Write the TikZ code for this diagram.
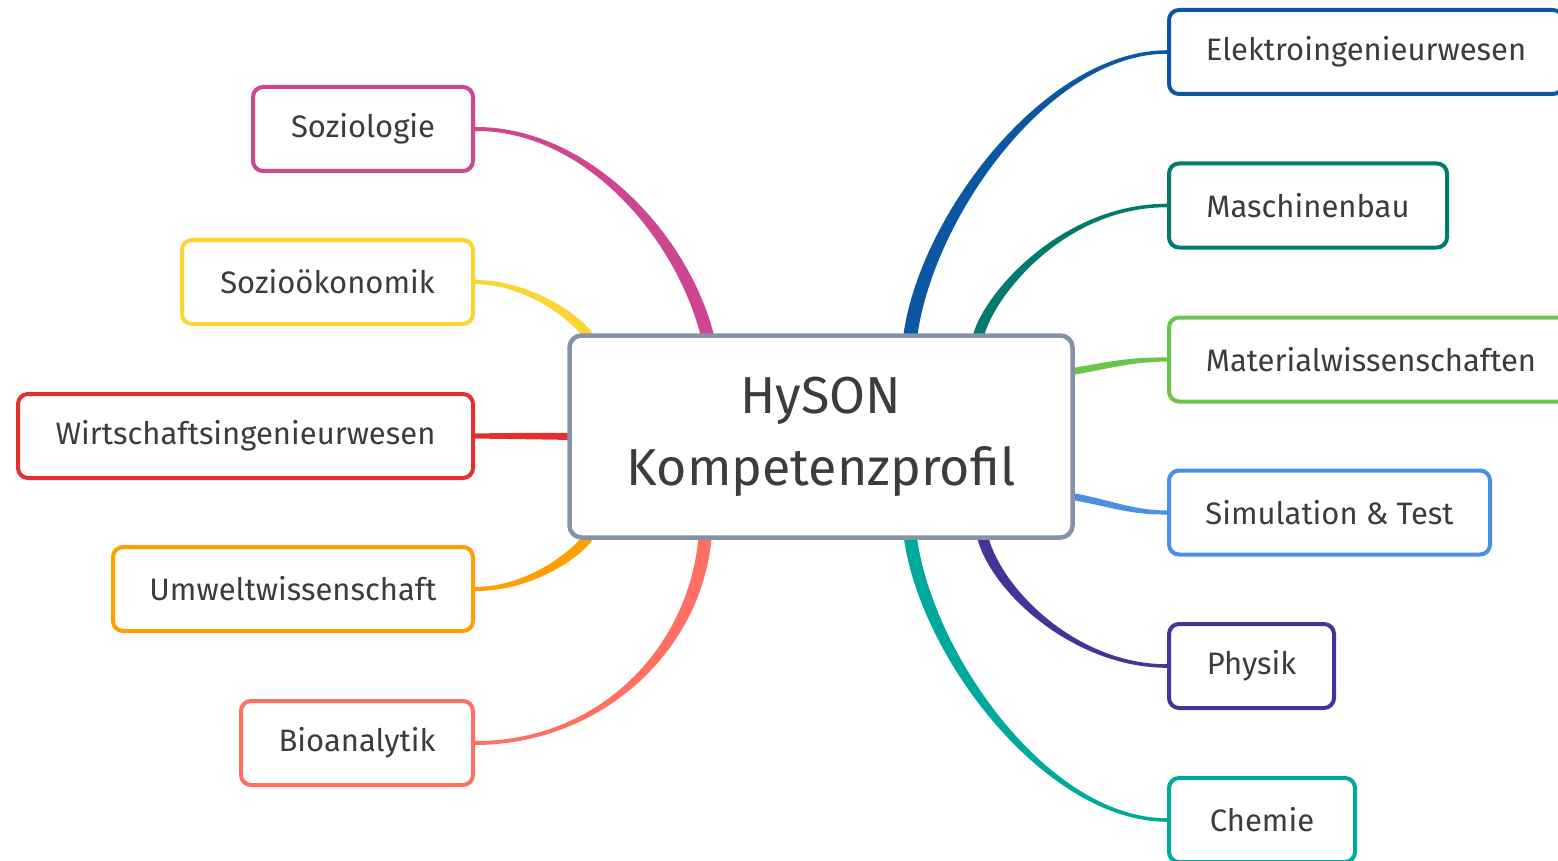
\documentclass[tikz,border=0pt]{standalone}
\usepackage{fontspec}
\setmainfont{Fira Sans}
\usetikzlibrary{calc}
\pgfdeclarelayer{bg}
\pgfsetlayers{bg,main}
\definecolor{txt}{HTML}{3C3C3C}
\definecolor{cgray}{HTML}{8593A8}
\definecolor{cpink}{HTML}{CF4690}
\definecolor{cyellow}{HTML}{FCD535}
\definecolor{cred}{HTML}{E3302F}
\definecolor{corange}{HTML}{FFA000}
\definecolor{csalmon}{HTML}{FF7062}
\definecolor{cblue}{HTML}{0B57A4}
\definecolor{cdteal}{HTML}{017B6C}
\definecolor{cgreen}{HTML}{6BC54B}
\definecolor{clblue}{HTML}{4A90E2}
\definecolor{cindigo}{HTML}{45339A}
\definecolor{cteal}{HTML}{00A99D}
\newcommand\leaffont{\fontsize{31}{36}\selectfont}
\newcommand\hubfont{\fontsize{52}{72}\selectfont}
% tapered connector: color, start, c1, c2, end, normal at start, normal at end
\newcommand\conn[7]{\fill[#1] ($(#2)+#6$) .. controls ($#3+#6$) and ($#4+0.35*#6+0.65*#7$) .. ($(#5)+#7$) -- ($(#5)-#7$) .. controls ($#4-0.35*#6-0.65*#7$) and ($#3-#6$) .. ($(#2)-#6$) -- cycle;}
\tikzset{
  leaf/.style={draw=#1, line width=4pt, rounded corners=10pt, fill=white,
    minimum height=84pt, inner sep=0pt, font=\leaffont, text=txt, align=center},
  hubbox/.style={draw=cgray, line width=4.5pt, rounded corners=12pt, fill=white,
    minimum width=503pt, minimum height=202pt, align=center, font=\hubfont, text=txt}
}
\begin{document}
\begin{tikzpicture}[x=1pt,y=-1pt]
\useasboundingbox (0,0) rectangle (1558,861);
\clip (0,0) rectangle (1558,861);

\node[hubbox] (hub) at (821,436.5) {HySON\\Kompetenzprofil};

\node[leaf=cpink, minimum width=220pt, anchor=east] (soz) at (475,129) {Soziologie};
\node[leaf=cyellow, minimum width=291pt, anchor=east] (sozo) at (475,282) {Sozioökonomik};
\node[leaf=cred, minimum width=455pt, anchor=east] (wirt) at (475,436) {Wirtschaftsingenieurwesen};
\node[leaf=corange, minimum width=360pt, anchor=east] (umw) at (475,589) {Umweltwissenschaft};
\node[leaf=csalmon, minimum width=232pt, anchor=east] (bio) at (475,743) {Bioanalytik};

\node[leaf=cblue, minimum width=394pt, anchor=west] (elek) at (1167,52) {Elektroingenieurwesen};
\node[leaf=cdteal, minimum width=278pt, anchor=west] (masch) at (1167,205.5) {Maschinenbau};
\node[leaf=cgreen, minimum width=404pt, anchor=west] (mat) at (1167,359.5) {Materialwissenschaften};
\node[leaf=clblue, minimum width=321pt, anchor=west] (sim) at (1167,512.5) {Simulation \& Test};
\node[leaf=cindigo, minimum width=165pt, anchor=west] (phys) at (1167,666) {Physik};
\node[leaf=cteal, minimum width=186pt, anchor=west] (chem) at (1167,820) {Chemie};

\coordinate (sPink) at ($(hub.north)+(-113,5)$);
\coordinate (sYel) at ($(hub.north)+(-231,5)$);
\coordinate (sRed) at ($(hub.west)+(8,0)$);
\coordinate (sOra) at ($(hub.south)+(-233,-2)$);
\coordinate (sSal) at ($(hub.south)+(-116,-2)$);
\coordinate (sBlu) at ($(hub.north)+(89,5)$);
\coordinate (sMas) at ($(hub.north)+(157,5)$);
\coordinate (sMat) at ($(hub.east)+(-5,-64.5)$);
\coordinate (sSim) at ($(hub.east)+(-5,59.5)$);
\coordinate (sPhy) at ($(hub.south)+(161,-5)$);
\coordinate (sChe) at ($(hub.south)+(89,-5)$);

\begin{pgfonlayer}{bg}
\fill[white] (0,0) rectangle (1558,861);
\conn{cpink}{sPink}{(683,235)}{(585,128)}{soz.east}{(6.3,-1.5)}{(0,-2)}
\conn{cyellow}{sYel}{(575,315)}{(525,282)}{sozo.east}{(4.2,-2.7)}{(0,-2)}
\conn{cred}{sRed}{(540,436)}{(510,436)}{wirt.east}{(0,-3.5)}{(0,-2.6)}
\conn{corange}{sOra}{(570,560)}{(525,589)}{umw.east}{(-3.9,-3.2)}{(0,-2)}
\conn{csalmon}{sSal}{(695,650)}{(600,743)}{bio.east}{(-6.5,-0.6)}{(0,-2)}
\conn{cblue}{sBlu}{(925,218)}{(1047,52)}{elek.west}{(6.9,0.86)}{(0,1.8)}
\conn{cdteal}{sMas}{(985,300)}{(1060,205.5)}{masch.west}{(5.4,1)}{(0,1.8)}
\conn{cgreen}{sMat}{(1110,365)}{(1130,359.5)}{mat.west}{(0.6,3.4)}{(0,2)}
\conn{clblue}{sSim}{(1110,503)}{(1130,512.5)}{sim.west}{(-0.6,3.4)}{(0,2)}
\conn{cindigo}{sPhy}{(995,590)}{(1075,666)}{phys.west}{(-5.35,1.27)}{(0,1.8)}
\conn{cteal}{sChe}{(925,655)}{(1047,820)}{chem.west}{(-6.45,0.8)}{(0,1.8)}
\end{pgfonlayer}
\end{tikzpicture}
\end{document}
